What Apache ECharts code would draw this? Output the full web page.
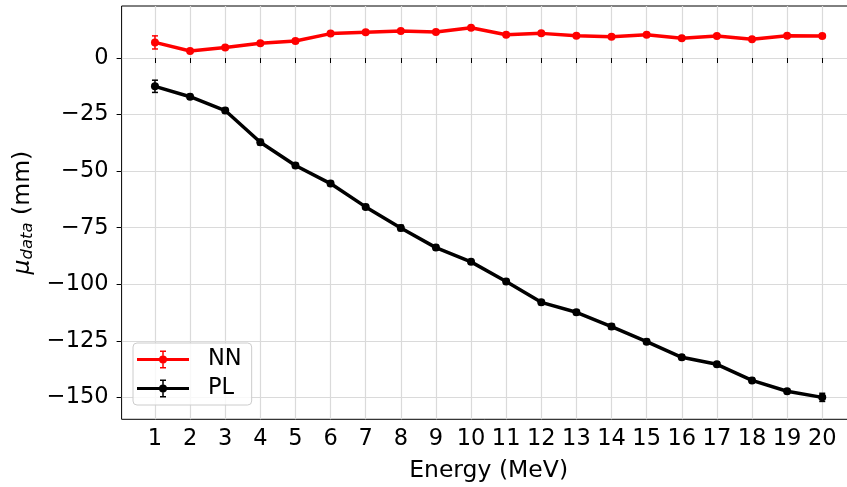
<!DOCTYPE html>
<html>
<head>
<meta charset="utf-8">
<script src="https://cdn.jsdelivr.net/npm/echarts@6/dist/echarts.min.js"></script>
<style>html,body{margin:0;padding:0;background:#fff;}#c{width:847px;height:487px;}</style>
</head>
<body>
<div id="c"></div>
<script>
const energies = [1,2,3,4,5,6,7,8,9,10,11,12,13,14,15,16,17,18,19,20];
const nnMean = [6.9,3.1,4.7,6.5,7.5,10.8,11.4,11.9,11.5,13.4,10.3,10.9,9.9,9.4,10.3,8.7,9.7,8.3,9.9,9.7];
const nnErr  = [2.9,0.6,0.6,0.6,0.7,0.6,0.6,0.6,0.6,0.7,0.6,0.6,0.6,0.6,0.6,0.6,0.6,0.6,0.6,0.7];
const plMean = [-12.5,-17.1,-23.2,-37.2,-47.5,-55.5,-65.8,-75.1,-83.8,-90.1,-98.8,-108.0,-112.4,-118.7,-125.4,-132.3,-135.4,-142.5,-147.3,-150.0];
const plErr  = [2.7,1.0,1.0,1.2,1.0,1.0,1.0,1.2,1.0,1.0,1.0,1.0,1.0,1.2,1.0,1.0,1.0,1.0,1.0,1.8];
const xTicks = [1,2,3,4,5,6,7,8,9,10,11,12,13,14,15,16,17,18,19,20];
const yTicks = [0,-25,-50,-75,-100,-125,-150];

const FONT = 'DejaVu Sans';
const chart = echarts.init(document.getElementById('c'), null, {renderer:'canvas'});

function errSeries(name, xs, ys, es, color){
  return {
    name: name + ' err', type: 'custom', z: 4,
    data: xs.map((x,i)=>[x, ys[i], es[i]]),
    renderItem: function(params, api){
      const x = api.value(0), y = api.value(1), e = api.value(2);
      const top = api.coord([x, y + e]);
      const bot = api.coord([x, y - e]);
      const st = {stroke: color, lineWidth: 1.5};
      return {type:'group', children:[
        {type:'line', shape:{x1:top[0], y1:top[1], x2:bot[0], y2:bot[1]}, style: st},
        {type:'line', shape:{x1:top[0]-3, y1:top[1], x2:top[0]+3, y2:top[1]}, style: st},
        {type:'line', shape:{x1:bot[0]-3, y1:bot[1], x2:bot[0]+3, y2:bot[1]}, style: st}
      ]};
    },
    silent: true
  };
}

const iconPath = 'path://M0,7.5 H52 V10.5 H0 Z M25.25,0 H26.75 V18 H25.25 Z M23,0 H29 V1.5 H23 Z M23,16.5 H29 V18 H23 Z M30,9 A4,4 0 1 1 22,9 A4,4 0 1 1 30,9 Z';

const minus = v => v < 0 ? '\u2212' + Math.abs(v) : String(v);

chart.setOption({
  animation: false,
  textStyle: {fontFamily: FONT},
  grid: {left: 121.6, top: 6, width: 734, height: 413.3, show: true, borderColor: '#000', borderWidth: 1,
         backgroundColor: 'transparent', outerBoundsMode: 'none', containLabel: false},
  legend: {
    left: 133, top: 343, orient: 'vertical',
    itemWidth: 52, itemHeight: 18, itemGap: 6,
    padding: [5, 10, 5, 4],
    backgroundColor: 'rgba(255,255,255,0.8)',
    borderColor: '#cccccc', borderWidth: 1, borderRadius: 4,
    textStyle: {fontFamily: FONT, fontSize: 22.5, color: '#000', padding: [0,0,0,14]},
    data: [
      {name: 'NN', icon: iconPath, itemStyle: {color: '#ff0000'}},
      {name: 'PL', icon: iconPath, itemStyle: {color: '#000000'}}
    ]
  },
  xAxis: {
    type: 'value', min: 0.05, max: 20.95,
    name: 'Energy (MeV)', nameLocation: 'middle', nameGap: 40,
    nameTextStyle: {fontFamily: FONT, fontSize: 23.5, color: '#000'},
    axisLine: {show: false},
    axisTick: {show: true, length: 5, lineStyle: {color: '#000', width: 1}, customValues: xTicks},
    axisLabel: {fontFamily: FONT, fontSize: 22.5, color: '#000', margin: 8, customValues: xTicks},
    splitLine: {show: true, lineStyle: {color: '#dadada', width: 1.2}, customValues: xTicks}
  },
  yAxis: {
    type: 'value', min: -159.7, max: 23.0,
    name: '{mu|\u03bc}{sub|data} (mm)', nameLocation: 'middle', nameGap: 79, nameRotate: 90,
    nameTextStyle: {fontFamily: FONT, fontSize: 23.5, color: '#000',
      rich: {
        mu: {fontFamily: FONT, fontSize: 23.5, fontStyle: 'italic', color: '#000'},
        sub: {fontFamily: FONT, fontSize: 16.5, fontStyle: 'italic', color: '#000', padding: [10,0,0,0]}
      }},
    axisLine: {show: false},
    axisTick: {show: true, length: 5, lineStyle: {color: '#000', width: 1}, customValues: yTicks},
    axisLabel: {fontFamily: FONT, fontSize: 22.5, color: '#000', margin: 13, formatter: minus, customValues: yTicks},
    splitLine: {show: true, lineStyle: {color: '#dadada', width: 1.2}, customValues: yTicks}
  },
  series: [
    {name: 'NN', type: 'line', data: energies.map((x,i)=>[x, nnMean[i]]), color: '#ff0000',
     symbol: 'circle', symbolSize: 8, showSymbol: true, lineStyle: {width: 3.5, color: '#ff0000'}, itemStyle: {color: '#ff0000'}, z: 3},
    errSeries('NN', energies, nnMean, nnErr, '#ff0000'),
    {name: 'PL', type: 'line', data: energies.map((x,i)=>[x, plMean[i]]), color: '#000000',
     symbol: 'circle', symbolSize: 8, showSymbol: true, lineStyle: {width: 3.5, color: '#000000'}, itemStyle: {color: '#000000'}, z: 3},
    errSeries('PL', energies, plMean, plErr, '#000000')
  ]
});
</script>
</body>
</html>
